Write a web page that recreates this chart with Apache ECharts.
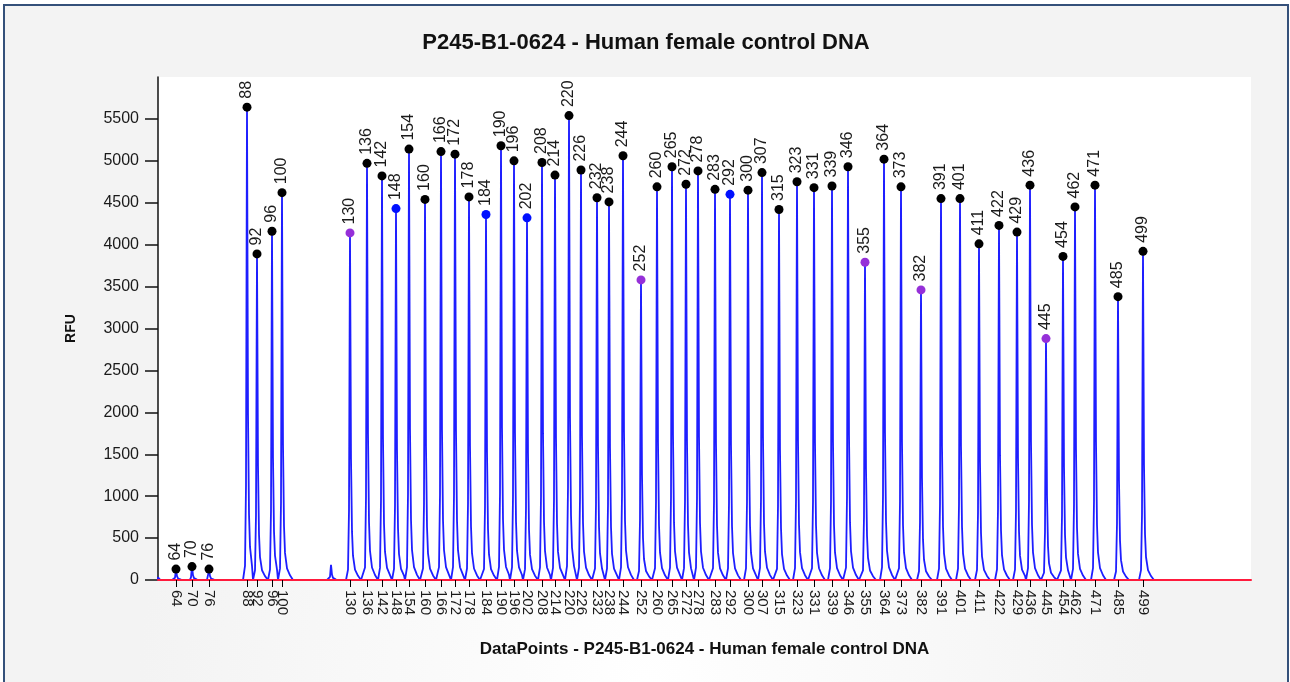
<!DOCTYPE html>
<html>
<head>
<meta charset="utf-8">
<title>P245-B1-0624 - Human female control DNA</title>
<script src="https://cdn.jsdelivr.net/npm/echarts@6/dist/echarts.min.js"></script>
<style>
    html, body { margin: 0; padding: 0; background: #fff; }
    #frame { position: absolute; left: 3px; top: 4px; width: 1282px; height: 700px; border: 2px solid #34507a; border-bottom: none; }
    #main { position: absolute; left: 0; top: 0; width: 1282px; height: 676px; }
</style>
</head>
<body>
<div id="frame"><div id="main"></div></div>
<script>
// fragment sizes (peak labels), their position in data points and peak height (RFU)
const sizes = [64, 70, 76, 88, 92, 96, 100, 130, 136, 142, 148, 154, 160, 166, 172, 178, 184, 190, 196, 202,
    208, 214, 220, 226, 232, 238, 244, 252, 260, 265, 272, 278, 283, 292, 300, 307, 315, 323, 331, 339,
    346, 355, 364, 373, 382, 391, 401, 411, 422, 429, 436, 445, 454, 462, 471, 485, 499];
const positions = [18, 34, 51, 89, 99, 114, 124, 192, 209, 224, 238, 251, 267, 283, 297, 311, 328, 343, 356, 369,
    384, 397, 411, 423, 439, 451, 465, 483, 499, 514, 528, 540, 557, 572, 590, 604, 621, 639, 656, 674,
    690, 707, 726, 743, 763, 783, 802, 821, 841, 859, 872, 888, 905, 917, 937, 960, 985];
const heights = [130, 160, 130, 5640, 3890, 4160, 4620, 4140, 4970, 4820, 4430, 5140, 4540, 5110, 5080, 4570, 4360, 5180, 5000, 4320,
    4980, 4830, 5540, 4890, 4560, 4510, 5060, 3580, 4690, 4930, 4720, 4880, 4660, 4600, 4650, 4860, 4420, 4750, 4680, 4700,
    4930, 3790, 5020, 4690, 3460, 4550, 4550, 4010, 4230, 4150, 4710, 2880, 3860, 4450, 4710, 3380, 3920];
// peaks flagged in other colours
const bluePeaks = [148, 184, 202, 292];
const purplePeaks = [130, 252, 355, 382, 445];
// small unlabelled bumps of the trace
const minorPositions = [0, 173];
const minorHeights = [30, 180];

const yTicks = [0, 500, 1000, 1500, 2000, 2500, 3000, 3500, 4000, 4500, 5000, 5500];
const xMax = 1093;

const font = "'Liberation Sans', Arial, sans-serif";

// shape of one peak, offsets in data points and fraction of the height
const riseShape = [[-4, 0], [-2, 0.03], [-1, 0.2], [-0.4, 0.7], [0, 1]];
const fallShape = [[0.4, 0.75], [1, 0.35], [2, 0.14], [3, 0.07], [5, 0.03], [8, 0.012], [11, 0]];

const allPeaks = positions.map((p, i) => ({ pos: p, h: heights[i] }))
    .concat(minorPositions.map((p, i) => ({ pos: p, h: minorHeights[i] })))
    .sort((a, b) => a.pos - b.pos);

const trace = [];
let lastX = -Infinity;
allPeaks.forEach((pk, i) => {
    const next = allPeaks[i + 1];
    const nextStart = next ? next.pos + riseShape[0][0] : Infinity;
    riseShape.forEach(s => {
        const x = pk.pos + s[0];
        if (x > lastX) { trace.push([x, pk.h * s[1]]); lastX = x; }
    });
    fallShape.forEach(s => {
        const x = pk.pos + s[0];
        if (x > lastX && x < nextStart) { trace.push([x, pk.h * s[1]]); lastX = x; }
    });
});
trace.push([xMax, 0]);

const sizeByPos = {};
positions.forEach((p, i) => { sizeByPos[p] = sizes[i]; });

const dots = positions.map((p, i) => {
    let c = '#000';
    if (bluePeaks.includes(sizes[i])) c = '#0010ff';
    if (purplePeaks.includes(sizes[i])) c = '#9530d8';
    return { value: [p, heights[i]], name: String(sizes[i]), itemStyle: { color: c } };
});

const chart = echarts.init(document.getElementById('main'));
chart.setOption({
    animation: false,
    backgroundColor: {
        type: 'radial', x: 0.5, y: 1.0, r: 0.75,
        colorStops: [{ offset: 0, color: '#ffffff' }, { offset: 1, color: '#f3f3f3' }]
    },
    title: {
        text: 'P245-B1-0624 - Human female control DNA',
        left: 'center',
        top: 21,
        textStyle: { fontFamily: font, fontSize: 22, fontWeight: 'bold', color: '#111' }
    },
    grid: {
        left: 153, right: 36, top: 71, bottom: 102,
        show: true, backgroundColor: '#fff', borderWidth: 0
    },
    xAxis: {
        type: 'value',
        min: 0,
        max: xMax,
        z: 10,
        name: 'DataPoints - P245-B1-0624 - Human female control DNA',
        nameLocation: 'middle',
        nameGap: 61,
        nameTextStyle: { fontFamily: font, fontSize: 17, fontWeight: 'bold', color: '#111' },
        axisLine: { lineStyle: { color: '#ff1a3c', width: 2 } },
        axisTick: { show: true, customValues: positions, length: 7, lineStyle: { color: '#000', width: 1 } },
        axisLabel: {
            customValues: positions,
            rotate: -90,
            margin: 10,
            fontFamily: font,
            fontSize: 15,
            color: '#1a1a1a',
            formatter: v => sizeByPos[v] !== undefined ? String(sizeByPos[v]) : ''
        },
        splitLine: { show: false }
    },
    yAxis: {
        type: 'value',
        min: 0,
        max: 6000,
        interval: 500,
        name: 'RFU',
        nameLocation: 'middle',
        nameGap: 80,
        nameTextStyle: { fontFamily: font, fontSize: 14, fontWeight: 'bold', color: '#111' },
        axisLine: { show: true, lineStyle: { color: '#111', width: 1.5 } },
        axisTick: { show: true, customValues: yTicks, length: 13, lineStyle: { color: '#111', width: 1.5 } },
        axisLabel: {
            customValues: yTicks, margin: 19, fontFamily: font, fontSize: 16, color: '#1a1a1a',
            formatter: v => String(v)
        },
        splitLine: { show: false }
    },
    series: [
        {
            name: 'trace',
            type: 'line',
            data: trace,
            showSymbol: false,
            lineStyle: { color: '#1e1eff', width: 1.8 },
            z: 2
        },
        {
            name: 'peaks',
            type: 'scatter',
            data: dots,
            symbolSize: 9,
            itemStyle: { opacity: 1 },
            z: 5,
            label: {
                show: true,
                position: 'top',
                distance: 4,
                rotate: 90,
                align: 'left',
                verticalAlign: 'middle',
                formatter: '{b}',
                fontFamily: font,
                fontSize: 16,
                color: '#1a1a1a'
            }
        }
    ]
});
</script>
</body>
</html>
